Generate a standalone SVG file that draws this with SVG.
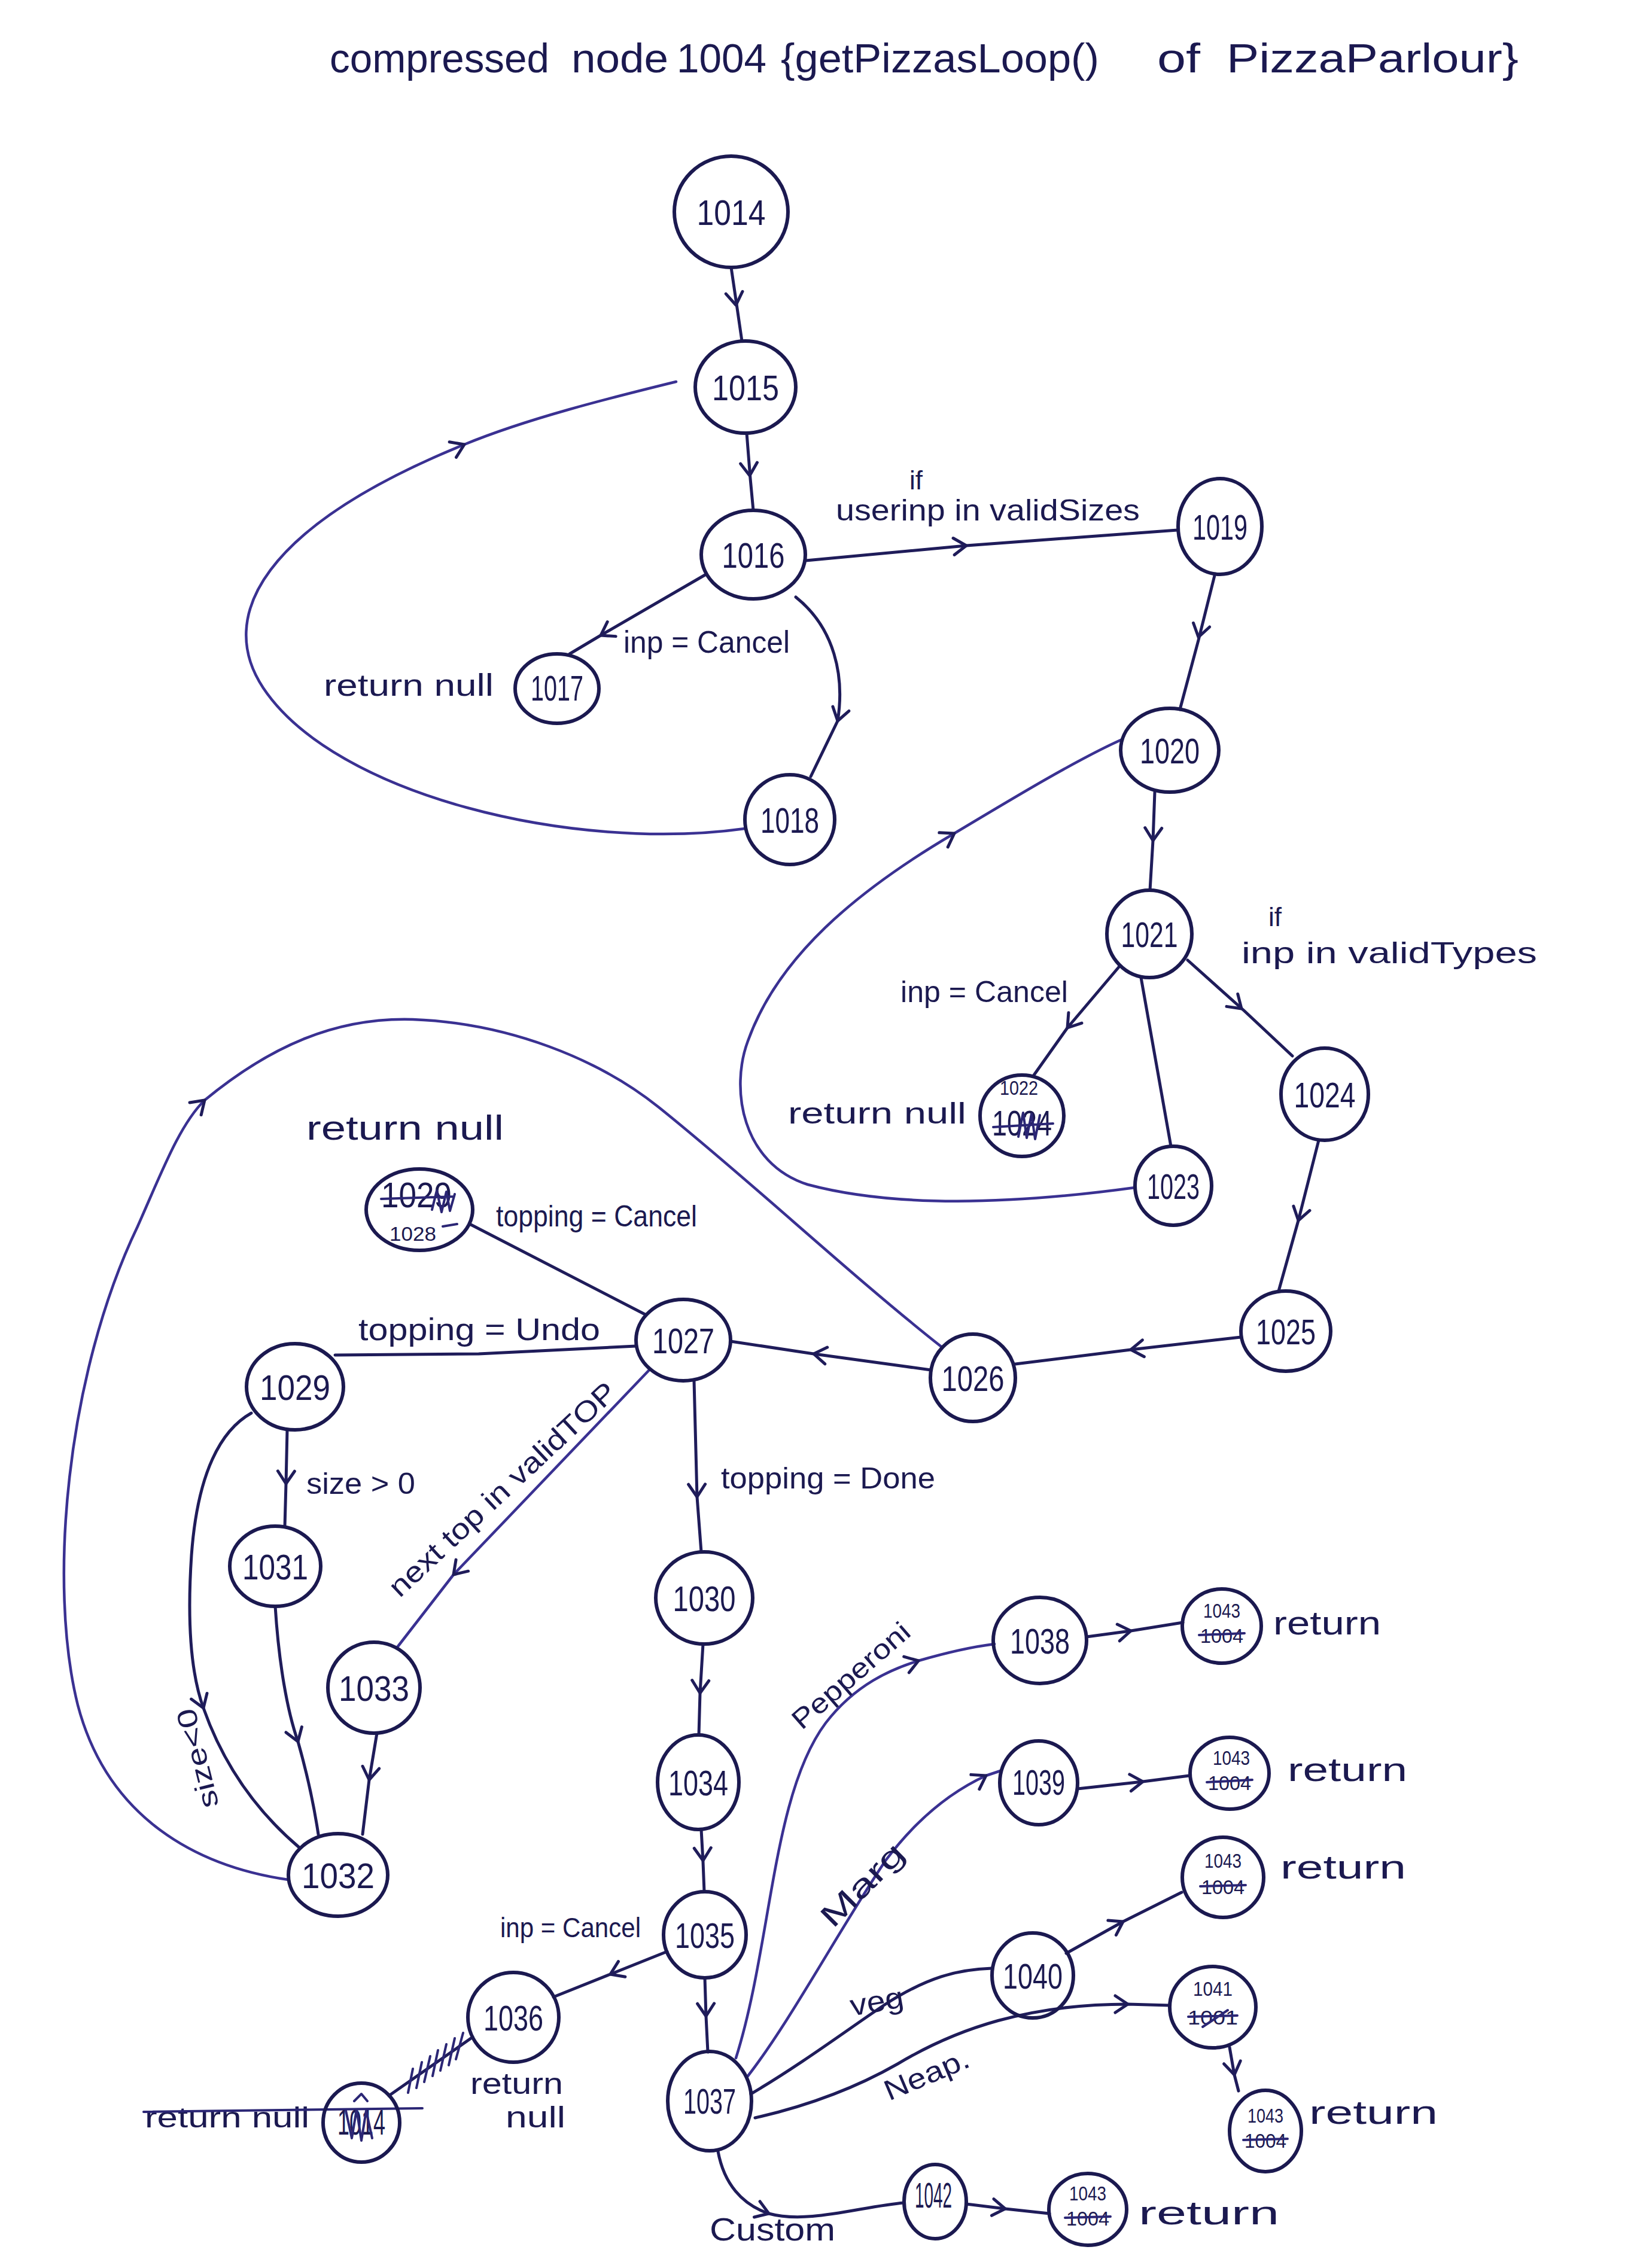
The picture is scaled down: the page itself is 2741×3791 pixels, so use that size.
<svg xmlns="http://www.w3.org/2000/svg" width="2741" height="3791" viewBox="0 0 2741 3791">
<defs>
  <!-- open chevron used as mid-line arrowhead -->
  <path id="chv" d="M-21,-14 L0,0 L-21,14"/>
</defs>
<style>
  .node ellipse{fill:none;stroke:#1b1950;stroke-width:6}
  .e{fill:none;stroke:#1f1c5a;stroke-width:5;stroke-linecap:round;stroke-linejoin:round}
  .p{stroke:#3a3192;stroke-width:4.5}
  .chv{fill:none;stroke:#1f1c5a;stroke-width:5;stroke-linecap:round;stroke-linejoin:round}
  text{font-family:"Liberation Sans",Arial,sans-serif;fill:#1b1950}
  .num{font-size:60px;text-anchor:middle}
  .sm{font-size:34px;text-anchor:middle}
  .lb{font-size:52px}
  .scr{fill:none;stroke:#2b2675;stroke-width:4;stroke-linecap:round;stroke-linejoin:round}
</style>
<rect width="2741" height="3791" fill="#ffffff"/>

<!-- heading -->
<g id="title" font-size="68">
  <text x="551" y="121" textLength="367" lengthAdjust="spacingAndGlyphs">compressed</text>
  <text x="955" y="121" textLength="162" lengthAdjust="spacingAndGlyphs">node</text>
  <text x="1131" y="121" textLength="150" lengthAdjust="spacingAndGlyphs">1004</text>
  <text x="1305" y="121" textLength="532" lengthAdjust="spacingAndGlyphs">{getPizzasLoop()</text>
  <text x="1934" y="121" textLength="72" lengthAdjust="spacingAndGlyphs">of</text>
  <text x="2050" y="121" textLength="488" lengthAdjust="spacingAndGlyphs">PizzaParlour}</text>
</g>

<!-- connectors -->
<g id="connectors">
  <path class="e" d="M1222,447 L1232,515 L1240,570"/>
  <use href="#chv" class="chv" transform="translate(1230,510) rotate(82)"/>
  <path class="e" d="M1248,724 L1254,800 L1259,853"/>
  <use href="#chv" class="chv" transform="translate(1253,795) rotate(86)"/>
  <path class="e" d="M1180,960 L1004,1062 L952,1093"/>
  <use href="#chv" class="chv" transform="translate(1004,1062) rotate(150)"/>
  <path class="e" d="M1330,998 C1395,1050 1412,1130 1400,1205 L1355,1298"/>
  <use href="#chv" class="chv" transform="translate(1400,1205) rotate(105)"/>
  <path class="e p" d="M1245,1385 C960,1425 560,1330 440,1150 C360,1030 440,880 776,743 C880,700 1020,665 1130,638"/>
  <use href="#chv" class="chv" transform="translate(776,743) rotate(-24)"/>
  <path class="e" d="M1347,937 L1615,912 L1968,886"/>
  <use href="#chv" class="chv" transform="translate(1615,912) rotate(-4)"/>
  <path class="e" d="M2030,962 L2003,1070 L1972,1186"/>
  <use href="#chv" class="chv" transform="translate(2003,1065) rotate(104)"/>
  <path class="e" d="M1930,1324 L1927,1405 L1922,1488"/>
  <use href="#chv" class="chv" transform="translate(1927,1405) rotate(92)"/>
  <path class="e" d="M1872,1614 L1784,1718 L1728,1797"/>
  <use href="#chv" class="chv" transform="translate(1784,1718) rotate(128)"/>
  <path class="e" d="M1907,1634 L1957,1916"/>
  <path class="e" d="M1985,1605 L2080,1690 L2160,1765"/>
  <use href="#chv" class="chv" transform="translate(2075,1686) rotate(42)"/>
  <path class="e p" d="M1897,1985 C1700,2012 1500,2020 1350,1980 C1240,1945 1220,1820 1250,1740 C1300,1600 1430,1490 1595,1393 C1700,1330 1800,1270 1873,1237"/>
  <use href="#chv" class="chv" transform="translate(1595,1393) rotate(-31)"/>
  <path class="e" d="M2204,1906 L2170,2040 L2137,2158"/>
  <use href="#chv" class="chv" transform="translate(2170,2040) rotate(105)"/>
  <path class="e" d="M2074,2235 L1890,2256 L1697,2280"/>
  <use href="#chv" class="chv" transform="translate(1890,2256) rotate(174)"/>
  <path class="e" d="M1556,2290 L1360,2263 L1221,2242"/>
  <use href="#chv" class="chv" transform="translate(1360,2263) rotate(188)"/>
  <path class="e p" d="M482,3142 C330,3120 180,3040 130,2850 C80,2650 110,2300 230,2050 C270,1960 300,1880 342,1839 C450,1750 560,1700 690,1704 C850,1710 1000,1770 1100,1850 C1250,1970 1420,2130 1572,2250"/>
  <use href="#chv" class="chv" transform="translate(342,1839) rotate(-43)"/>
  <path class="e" d="M1080,2198 L787,2047"/>
  <path class="e" d="M1063,2250 L800,2263 L560,2265"/>
  <path class="e" d="M480,2390 L478,2480 L476,2552"/>
  <use href="#chv" class="chv" transform="translate(478,2480) rotate(91)"/>
  <path class="e" d="M420,2362 C370,2390 330,2460 320,2600 C312,2720 320,2800 340,2855 C370,2940 420,3020 500,3088"/>
  <use href="#chv" class="chv" transform="translate(340,2855) rotate(70)"/>
  <path class="e" d="M460,2685 C466,2780 480,2860 498,2911 C512,2960 525,3020 532,3066"/>
  <use href="#chv" class="chv" transform="translate(498,2911) rotate(71)"/>
  <path class="e" d="M630,2897 L617,2975 L606,3066"/>
  <use href="#chv" class="chv" transform="translate(617,2975) rotate(98)"/>
  <path class="e p" d="M1085,2290 L758,2632 L665,2752"/>
  <use href="#chv" class="chv" transform="translate(758,2632) rotate(133)"/>
  <path class="e" d="M1160,2308 L1165,2502 L1172,2594"/>
  <use href="#chv" class="chv" transform="translate(1165,2502) rotate(89)"/>
  <path class="e" d="M1175,2748 L1170,2830 L1168,2900"/>
  <use href="#chv" class="chv" transform="translate(1170,2830) rotate(92)"/>
  <path class="e" d="M1172,3058 L1175,3112 L1177,3162"/>
  <use href="#chv" class="chv" transform="translate(1175,3110) rotate(88)"/>
  <path class="e" d="M1115,3262 L1020,3300 L925,3338"/>
  <use href="#chv" class="chv" transform="translate(1020,3300) rotate(156)"/>
  <!-- struck-through branch from 1036 -->
  <path class="e" d="M790,3405 L650,3503"/>
  <path class="scr" d="M774,3398 L762,3442 M760,3407 L750,3452 M746,3417 L736,3461 M732,3427 L723,3470 M719,3437 L709,3480 M705,3447 L696,3490 M690,3458 L682,3498"/>
  <path class="e" d="M1178,3306 L1180,3370 L1183,3430"/>
  <use href="#chv" class="chv" transform="translate(1180,3370) rotate(89)"/>
  <path class="e p" d="M1230,3440 C1290,3250 1290,3000 1380,2880 C1430,2815 1490,2790 1535,2776 C1590,2760 1630,2752 1662,2748"/>
  <use href="#chv" class="chv" transform="translate(1535,2776) rotate(-18)"/>
  <path class="e" d="M1816,2736 L1890,2726 L1977,2712"/>
  <use href="#chv" class="chv" transform="translate(1890,2726) rotate(-8)"/>
  <path class="e p" d="M1250,3470 C1320,3380 1400,3230 1480,3110 C1540,3030 1600,2990 1648,2968 L1672,2960"/>
  <use href="#chv" class="chv" transform="translate(1648,2968) rotate(-30)"/>
  <path class="e" d="M1801,2990 L1910,2978 L1988,2968"/>
  <use href="#chv" class="chv" transform="translate(1910,2978) rotate(-5)"/>
  <path class="e" d="M1255,3500 C1340,3450 1420,3390 1480,3350 C1550,3305 1600,3292 1658,3290"/>
  <path class="e" d="M1782,3265 L1877,3212 L1975,3163"/>
  <use href="#chv" class="chv" transform="translate(1877,3212) rotate(-29)"/>
  <path class="e" d="M1262,3540 C1350,3520 1430,3490 1500,3450 C1600,3390 1720,3350 1885,3350 L1955,3352"/>
  <use href="#chv" class="chv" transform="translate(1885,3350) rotate(0)"/>
  <path class="e" d="M2055,3422 L2063,3468 L2070,3495"/>
  <use href="#chv" class="chv" transform="translate(2063,3468) rotate(80)"/>
  <path class="e" d="M1200,3596 C1210,3650 1240,3685 1285,3700 C1350,3718 1440,3688 1511,3682"/>
  <use href="#chv" class="chv" transform="translate(1285,3700) rotate(20)"/>
  <path class="e" d="M1615,3684 L1680,3692 L1754,3700"/>
  <use href="#chv" class="chv" transform="translate(1680,3692) rotate(7)"/>
</g>

<!-- edge labels -->
<g id="labels" class="lb">
  <text x="1042" y="1091" textLength="278" lengthAdjust="spacingAndGlyphs">inp = Cancel</text>
  <text x="541" y="1163" textLength="284" lengthAdjust="spacingAndGlyphs">return null</text>
  <text x="1520" y="818" font-size="44">if</text>
  <text x="1397" y="870" font-size="50" textLength="508" lengthAdjust="spacingAndGlyphs">userinp in validSizes</text>
  <text x="2120" y="1548" font-size="44">if</text>
  <text x="2075" y="1610" font-size="50" textLength="494" lengthAdjust="spacingAndGlyphs">inp in validTypes</text>
  <text x="1505" y="1675" font-size="50" textLength="280" lengthAdjust="spacingAndGlyphs">inp = Cancel</text>
  <text x="1317" y="1878" font-size="50" textLength="298" lengthAdjust="spacingAndGlyphs">return null</text>
  <text x="512" y="1905" font-size="58" textLength="330" lengthAdjust="spacingAndGlyphs">return null</text>
  <text x="829" y="2050" font-size="50" textLength="336" lengthAdjust="spacingAndGlyphs">topping = Cancel</text>
  <text x="599" y="2240" font-size="52" textLength="404" lengthAdjust="spacingAndGlyphs">topping = Undo</text>
  <text x="512" y="2497" font-size="50" textLength="182" lengthAdjust="spacingAndGlyphs">size &gt; 0</text>
  <text transform="translate(668,2672) rotate(-43)" font-size="48" textLength="500" lengthAdjust="spacingAndGlyphs">next top in validTOP</text>
  <text x="1205" y="2488" font-size="50" textLength="358" lengthAdjust="spacingAndGlyphs">topping = Done</text>
  <text transform="translate(366,3018) rotate(-104)" font-size="46" textLength="170" lengthAdjust="spacingAndGlyphs">size&lt;0</text>
  <text x="836" y="3238" font-size="46" textLength="235" lengthAdjust="spacingAndGlyphs">inp = Cancel</text>
  <text x="786" y="3500" font-size="50" textLength="155" lengthAdjust="spacingAndGlyphs">return</text>
  <text x="845" y="3556" font-size="50" textLength="100" lengthAdjust="spacingAndGlyphs">null</text>
  <text x="242" y="3556" font-size="48" textLength="275" lengthAdjust="spacingAndGlyphs">return null</text>
  <path class="scr" d="M240,3530 L706,3524"/>
  <text transform="translate(1340,2893) rotate(-41)" font-size="46" textLength="245" lengthAdjust="spacingAndGlyphs">Pepperoni</text>
  <text transform="translate(1392,3225) rotate(-45)" font-size="52" textLength="175" lengthAdjust="spacingAndGlyphs">Marg</text>
  <text transform="translate(1424,3370) rotate(-10)" font-size="50" textLength="90" lengthAdjust="spacingAndGlyphs">veg</text>
  <text transform="translate(1486,3512) rotate(-23)" font-size="48" textLength="150" lengthAdjust="spacingAndGlyphs">Neap.</text>
  <text x="1186" y="3745" font-size="54" textLength="210" lengthAdjust="spacingAndGlyphs">Custom</text>
  <text x="2128" y="2732" font-size="55" textLength="180" lengthAdjust="spacingAndGlyphs">return</text>
  <text x="2152" y="2977" font-size="55" textLength="200" lengthAdjust="spacingAndGlyphs">return</text>
  <text x="2140" y="3140" font-size="55" textLength="210" lengthAdjust="spacingAndGlyphs">return</text>
  <text x="2188" y="3550" font-size="55" textLength="215" lengthAdjust="spacingAndGlyphs">return</text>
  <text x="1903" y="3718" font-size="55" textLength="235" lengthAdjust="spacingAndGlyphs">return</text>
</g>

<!-- nodes -->
<g id="n1014" class="node"><ellipse cx="1222" cy="354" rx="95" ry="93"/><text class="num" x="1222" y="376" font-size="62" textLength="115" lengthAdjust="spacingAndGlyphs">1014</text></g>
<g id="n1015" class="node"><ellipse cx="1246" cy="647" rx="84" ry="77"/><text class="num" x="1246" y="669" textLength="112" lengthAdjust="spacingAndGlyphs">1015</text></g>
<g id="n1016" class="node"><ellipse cx="1259" cy="927" rx="87" ry="74"/><text class="num" x="1259" y="949" textLength="105" lengthAdjust="spacingAndGlyphs">1016</text></g>
<g id="n1017" class="node"><ellipse cx="931" cy="1151" rx="70" ry="58"/><text class="num" x="931" y="1171" font-size="56" textLength="88" lengthAdjust="spacingAndGlyphs">1017</text></g>
<g id="n1018" class="node"><ellipse cx="1320" cy="1370" rx="75" ry="75"/><text class="num" x="1320" y="1392" textLength="98" lengthAdjust="spacingAndGlyphs">1018</text></g>
<g id="n1019" class="node"><ellipse cx="2039" cy="880" rx="70" ry="80"/><text class="num" x="2039" y="902" textLength="92" lengthAdjust="spacingAndGlyphs">1019</text></g>
<g id="n1020" class="node"><ellipse cx="1955" cy="1254" rx="82" ry="70"/><text class="num" x="1955" y="1276" textLength="100" lengthAdjust="spacingAndGlyphs">1020</text></g>
<g id="n1021" class="node"><ellipse cx="1921" cy="1561" rx="71" ry="73"/><text class="num" x="1921" y="1583" textLength="95" lengthAdjust="spacingAndGlyphs">1021</text></g>
<g id="n1022" class="node"><ellipse cx="1708" cy="1865" rx="70" ry="68"/>
  <text class="sm" x="1703" y="1830" font-size="30" textLength="64" lengthAdjust="spacingAndGlyphs">1022</text>
  <text class="num" x="1708" y="1898" font-size="40" textLength="100" lengthAdjust="spacingAndGlyphs">1024</text>
  <path class="scr" d="M1660,1884 L1760,1878 M1702,1900 L1710,1860 L1716,1902 L1724,1862 L1730,1904 L1738,1864"/></g>
<g id="n1023" class="node"><ellipse cx="1961" cy="1982" rx="64" ry="66"/><text class="num" x="1961" y="2004" font-size="56" textLength="88" lengthAdjust="spacingAndGlyphs">1023</text></g>
<g id="n1024" class="node"><ellipse cx="2214" cy="1829" rx="73" ry="77"/><text class="num" x="2214" y="1851" textLength="103" lengthAdjust="spacingAndGlyphs">1024</text></g>
<g id="n1025" class="node"><ellipse cx="2149" cy="2225" rx="75" ry="67"/><text class="num" x="2149" y="2247" textLength="100" lengthAdjust="spacingAndGlyphs">1025</text></g>
<g id="n1026" class="node"><ellipse cx="1626" cy="2303" rx="71" ry="73"/><text class="num" x="1626" y="2325" textLength="105" lengthAdjust="spacingAndGlyphs">1026</text></g>
<g id="n1027" class="node"><ellipse cx="1142" cy="2240" rx="79" ry="68"/><text class="num" x="1142" y="2262" textLength="104" lengthAdjust="spacingAndGlyphs">1027</text></g>
<g id="n1028" class="node"><ellipse cx="701" cy="2022" rx="89" ry="68"/>
  <text class="num" x="696" y="2018" font-size="40" textLength="118" lengthAdjust="spacingAndGlyphs">1029</text>
  <text class="sm" x="690" y="2074" font-size="32" textLength="78" lengthAdjust="spacingAndGlyphs">1028</text>
  <path class="scr" d="M637,2004 L758,2000 M722,2022 L730,1990 L738,2026 L746,1992 L752,2024 L760,1996 M740,2050 L764,2046"/></g>
<g id="n1029" class="node"><ellipse cx="493" cy="2318" rx="81" ry="72"/><text class="num" x="493" y="2340" textLength="118" lengthAdjust="spacingAndGlyphs">1029</text></g>
<g id="n1031" class="node"><ellipse cx="460" cy="2618" rx="76" ry="67"/><text class="num" x="460" y="2640" textLength="110" lengthAdjust="spacingAndGlyphs">1031</text></g>
<g id="n1033" class="node"><ellipse cx="625" cy="2821" rx="77" ry="76"/><text class="num" x="625" y="2843" textLength="118" lengthAdjust="spacingAndGlyphs">1033</text></g>
<g id="n1032" class="node"><ellipse cx="565" cy="3134" rx="83" ry="69"/><text class="num" x="565" y="3156" textLength="122" lengthAdjust="spacingAndGlyphs">1032</text></g>
<g id="n1030" class="node"><ellipse cx="1177" cy="2671" rx="81" ry="77"/><text class="num" x="1177" y="2693" textLength="105" lengthAdjust="spacingAndGlyphs">1030</text></g>
<g id="n1034" class="node"><ellipse cx="1167" cy="2979" rx="68" ry="79"/><text class="num" x="1167" y="3001" textLength="100" lengthAdjust="spacingAndGlyphs">1034</text></g>
<g id="n1035" class="node"><ellipse cx="1178" cy="3234" rx="69" ry="72"/><text class="num" x="1178" y="3256" textLength="100" lengthAdjust="spacingAndGlyphs">1035</text></g>
<g id="n1036" class="node"><ellipse cx="858" cy="3372" rx="76" ry="75"/><text class="num" x="858" y="3394" textLength="100" lengthAdjust="spacingAndGlyphs">1036</text></g>
<g id="n1014b" class="node"><ellipse cx="604" cy="3548" rx="64" ry="66"/>
  <text class="num" x="604" y="3568" font-size="44" textLength="80" lengthAdjust="spacingAndGlyphs">1014</text>
  <path class="scr" d="M578,3528 L588,3574 L596,3526 L604,3578 L612,3528 L622,3574 M592,3512 L604,3500 L614,3512"/></g>
<g id="n1037" class="node"><ellipse cx="1186" cy="3512" rx="70" ry="83"/><text class="num" x="1186" y="3533" font-size="58" textLength="88" lengthAdjust="spacingAndGlyphs">1037</text></g>
<g id="n1038" class="node"><ellipse cx="1738" cy="2742" rx="78" ry="72"/><text class="num" x="1738" y="2764" textLength="100" lengthAdjust="spacingAndGlyphs">1038</text></g>
<g id="n1039" class="node"><ellipse cx="1736" cy="2980" rx="65" ry="70"/><text class="num" x="1736" y="3000" font-size="56" textLength="88" lengthAdjust="spacingAndGlyphs">1039</text></g>
<g id="n1040" class="node"><ellipse cx="1726" cy="3302" rx="68" ry="71"/><text class="num" x="1726" y="3324" textLength="100" lengthAdjust="spacingAndGlyphs">1040</text></g>
<g id="n1041" class="node"><ellipse cx="2027" cy="3355" rx="72" ry="68"/>
  <text class="sm" x="2027" y="3336" textLength="66" lengthAdjust="spacingAndGlyphs">1041</text>
  <text class="sm" x="2027" y="3384" font-size="36" textLength="84" lengthAdjust="spacingAndGlyphs">1001</text>
  <path class="scr" d="M1986,3371 L2068,3369 M2010,3388 L2052,3360"/></g>
<g id="n1042" class="node"><ellipse cx="1563" cy="3680" rx="52" ry="62"/><text class="num" x="1560" y="3690" font-size="40" textLength="62" lengthAdjust="spacingAndGlyphs">1042</text></g>
<g id="n1043a" class="node"><ellipse cx="2042" cy="2718" rx="66" ry="62"/>
  <text class="sm" x="2042" y="2704" textLength="62" lengthAdjust="spacingAndGlyphs">1043</text>
  <text class="sm" x="2042" y="2746" font-size="36" textLength="72" lengthAdjust="spacingAndGlyphs">1004</text>
  <path class="scr" d="M2004,2733 L2080,2730"/></g>
<g id="n1043b" class="node"><ellipse cx="2055" cy="2964" rx="66" ry="60"/>
  <text class="sm" x="2058" y="2950" textLength="62" lengthAdjust="spacingAndGlyphs">1043</text>
  <text class="sm" x="2055" y="2992" font-size="36" textLength="72" lengthAdjust="spacingAndGlyphs">1004</text>
  <path class="scr" d="M2017,2979 L2093,2975"/></g>
<g id="n1043c" class="node"><ellipse cx="2044" cy="3138" rx="68" ry="67"/>
  <text class="sm" x="2044" y="3122" textLength="62" lengthAdjust="spacingAndGlyphs">1043</text>
  <text class="sm" x="2044" y="3166" font-size="36" textLength="72" lengthAdjust="spacingAndGlyphs">1004</text>
  <path class="scr" d="M2006,3153 L2082,3151"/></g>
<g id="n1043d" class="node"><ellipse cx="2115" cy="3562" rx="60" ry="68"/>
  <text class="sm" x="2115" y="3548" textLength="60" lengthAdjust="spacingAndGlyphs">1043</text>
  <text class="sm" x="2115" y="3590" font-size="36" textLength="70" lengthAdjust="spacingAndGlyphs">1004</text>
  <path class="scr" d="M2078,3577 L2152,3575"/></g>
<g id="n1043e" class="node"><ellipse cx="1818" cy="3693" rx="65" ry="60"/>
  <text class="sm" x="1818" y="3678" textLength="62" lengthAdjust="spacingAndGlyphs">1043</text>
  <text class="sm" x="1818" y="3720" font-size="36" textLength="72" lengthAdjust="spacingAndGlyphs">1004</text>
  <path class="scr" d="M1780,3707 L1856,3705"/></g>
</svg>
